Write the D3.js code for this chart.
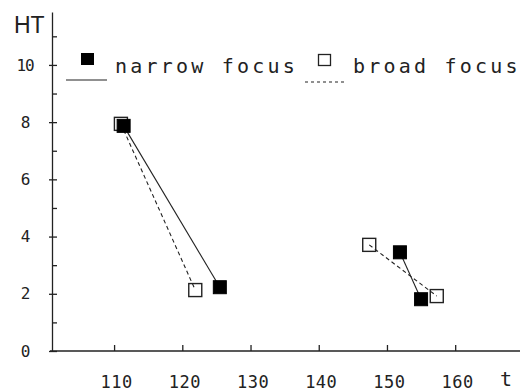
<!DOCTYPE html>
<html><head><meta charset="utf-8">
<script src="https://cdn.jsdelivr.net/npm/d3@7/dist/d3.min.js"></script>
<style>body{margin:0;background:#fff}svg{display:block}</style>
</head><body><svg id="c" width="522" height="392"></svg>
<script>
const narrowT  = [111.4, 125.5, 151.9, 155.0];
const narrowHT = [7.87, 2.23, 3.45, 1.81];
const narrowGroup = [1, 1, 2, 2];
const broadT   = [111.0, 121.9, 147.4, 157.3];
const broadHT  = [7.94, 2.13, 3.71, 1.92];
const broadGroup = [1, 1, 2, 2];
const xTicks = [110, 120, 130, 140, 150, 160];
const yMajor = [0, 2, 4, 6, 8, 10];
const yAll = [0,1,2,3,4,5,6,7,8,9,10,11];
const seriesNames = ["narrow focus", "broad focus"];
const xLabel = "t", yLabel = "HT";

const svg = d3.select("#c");
const x = d3.scaleLinear().domain([100.9, 169.5]).range([52, 520]);
const y = d3.scaleLinear().domain([0, 11.85]).range([351, 12]);
const ink = "#222";
const mono = "'DejaVu Sans Mono', 'Liberation Mono', monospace";

// x axis
const gx = svg.append("g").attr("transform", `translate(0,${y(0)})`)
  .call(d3.axisBottom(x).tickValues(xTicks).tickSizeInner(-6).tickSizeOuter(0).tickPadding(25));
gx.select(".domain").attr("d", `M50,0H520`).attr("stroke", ink).attr("stroke-width", 1.3);
gx.selectAll(".tick line").attr("stroke", ink).attr("stroke-width", 1.3);
gx.selectAll(".tick text").attr("font-family", mono).attr("font-size", 17).attr("fill", ink)
  .attr("dx", 2).attr("letter-spacing", 0.5);

// y axis
const gy = svg.append("g").attr("transform", `translate(${x(100.9)},0)`)
  .call(d3.axisLeft(y).tickValues(yMajor).tickSize(3).tickSizeOuter(0).tickPadding(0));
gy.select(".domain").attr("stroke", ink).attr("stroke-width", 1.3);
gy.selectAll(".tick line").attr("stroke", ink).attr("stroke-width", 1.3);
gy.selectAll(".tick text").attr("font-family", mono).attr("font-size", 16).attr("fill", ink)
  .attr("text-anchor", "middle").attr("x", -27).attr("letter-spacing", -1);
const gy2 = svg.append("g").attr("transform", `translate(${x(100.9)},0)`)
  .call(d3.axisRight(y).tickValues(yAll).tickSize(5).tickSizeOuter(0).tickFormat(""));
gy2.select(".domain").remove();
gy2.selectAll(".tick line").attr("stroke", ink).attr("stroke-width", 1.3);

// axis labels
svg.append("text").attr("x", 14).attr("y", 33).attr("font-family", "'Liberation Sans', Arial, sans-serif")
  .attr("font-size", 23).attr("fill", ink).text(yLabel);
svg.append("text").attr("x", 500).attr("y", 386).attr("font-family", mono)
  .attr("font-size", 20).attr("fill", ink).text(xLabel);

function pts(T, V, G) { return T.map((t, i) => ({t, v: V[i], g: G[i]})); }
const narrow = pts(narrowT, narrowHT, narrowGroup);
const broad = pts(broadT, broadHT, broadGroup);
const line = d3.line().x(d => x(d.t)).y(d => y(d.v));

function drawLines(data, dash) {
  const groups = d3.groups(data, d => d.g);
  svg.append("g").selectAll("path").data(groups).join("path")
    .attr("d", d => line(d[1])).attr("fill", "none").attr("stroke", ink)
    .attr("stroke-width", 1.1).attr("stroke-dasharray", dash);
}
drawLines(broad, "4,3");
drawLines(narrow, null);

const S = 13;
svg.append("g").selectAll("rect").data(broad).join("rect")
  .attr("x", d => x(d.t) - S/2).attr("y", d => y(d.v) - S/2).attr("width", S).attr("height", S)
  .attr("fill", "none").attr("stroke", ink).attr("stroke-width", 1.4);
svg.append("g").selectAll("rect").data(narrow).join("rect")
  .attr("x", d => x(d.t) - S/2).attr("y", d => y(d.v) - S/2).attr("width", S).attr("height", S)
  .attr("fill", "#000").attr("stroke", "#000").attr("stroke-width", 1);

// legend
const lg = svg.append("g");
lg.append("rect").attr("x", 81).attr("y", 53).attr("width", 13).attr("height", 12).attr("fill", "#000");
lg.append("line").attr("x1", 66).attr("x2", 107).attr("y1", 80).attr("y2", 80).attr("stroke", ink).attr("stroke-width", 1.1);
lg.append("text").attr("x", 115).attr("y", 73).attr("font-family", mono).attr("font-size", 20)
  .attr("letter-spacing", 3.2).attr("fill", ink).text(seriesNames[0]);
lg.append("rect").attr("x", 318.5).attr("y", 54.5).attr("width", 12).attr("height", 11)
  .attr("fill", "none").attr("stroke", ink).attr("stroke-width", 1.3);
lg.append("line").attr("x1", 305).attr("x2", 345).attr("y1", 82).attr("y2", 82).attr("stroke", ink)
  .attr("stroke-width", 1.1).attr("stroke-dasharray", "3,3");
lg.append("text").attr("x", 353).attr("y", 73).attr("font-family", mono).attr("font-size", 20)
  .attr("letter-spacing", 3.2).attr("fill", ink).text(seriesNames[1]);
</script></body></html>
